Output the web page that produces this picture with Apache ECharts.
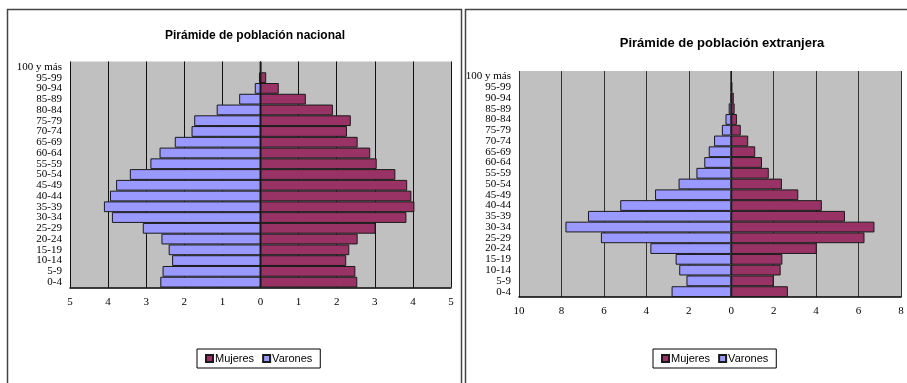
<!DOCTYPE html>
<html>
<head>
<meta charset="utf-8">
<script src="https://cdn.jsdelivr.net/npm/echarts@6/dist/echarts.min.js"></script>
<style>
html,body{margin:0;padding:0;background:#fff;}
#c{width:907px;height:383px;}
</style>
</head>
<body>
<div id="c"></div>
<script>
var categories = ['0-4','5-9','10-14','15-19','20-24','25-29','30-34','35-39','40-44','45-49','50-54','55-59','60-64','65-69','70-74','75-79','80-84','85-89','90-94','95-99','100 y más'];

var nacMujeres = [2.54,2.49,2.25,2.33,2.55,3.02,3.83,4.04,3.96,3.85,3.54,3.05,2.88,2.55,2.27,2.37,1.90,1.19,0.48,0.15,0.02];
var nacVarones = [2.63,2.57,2.32,2.41,2.60,3.09,3.90,4.11,3.95,3.79,3.43,2.89,2.65,2.25,1.81,1.74,1.15,0.56,0.15,0.04,0.01];

var extMujeres = [2.67,2.00,2.33,2.41,4.03,6.28,6.75,5.36,4.27,3.16,2.39,1.77,1.45,1.13,0.80,0.45,0.27,0.16,0.12,0.05,0.02];
var extVarones = [2.81,2.11,2.45,2.62,3.81,6.14,7.81,6.75,5.23,3.59,2.48,1.64,1.27,1.06,0.81,0.44,0.27,0.12,0.03,0.02,0.01];

var COL_M = '#993366', COL_V = '#9999FF';
var serif = 'Liberation Serif';
var sans = 'Liberation Sans';

function neg(a){ return a.map(function(v){ return -v; }); }

function xAxisCfg(gi, min, max, interval, gridColor){
  return {
    type:'value', gridIndex:gi, min:min, max:max, interval:interval,
    axisLine:{show:true, onZero:false, lineStyle:{color:'#000', width:1.5}},
    axisTick:{show:false},
    axisLabel:{fontFamily:serif, fontSize:11, color:'#000', margin:9,
      formatter:function(v){ return String(Math.abs(v)); }},
    splitLine:{show:true, lineStyle:{color:gridColor, width:1}}
  };
}
function yAxisCfg(gi){
  return {
    type:'category', gridIndex:gi, data:categories,
    axisLine:{show:false}, axisTick:{show:false},
    axisLabel:{fontFamily:serif, fontSize:11, color:'#000', margin:8, interval:0, lineHeight:10},
    splitLine:{show:false}
  };
}
function barS(name, data, xi, yi, color){
  return {
    name:name, type:'bar', stack:'s'+xi, xAxisIndex:xi, yAxisIndex:yi,
    data:data, barCategoryGap:'0%', barGap:'-100%',
    itemStyle:{color:color, borderColor:'#1a1a1a', borderWidth:1},
    emphasis:{disabled:true}, animation:false
  };
}

var chart = echarts.init(document.getElementById('c'), null, {renderer:'canvas'});
chart.setOption({
  animation:false,
  graphic:[
    {type:'polyline', shape:{points:[[7.5,383],[7.5,9.5],[461.5,9.5],[461.5,383]]}, style:{fill:null, stroke:'#444', lineWidth:1.5}, z:100},
    {type:'polyline', shape:{points:[[465.5,383],[465.5,9.5],[910,9.5]]}, style:{fill:null, stroke:'#444', lineWidth:1.5}, z:100}
  ],
  title:[
    {text:'Pirámide de población nacional', left:250, top:25, textAlign:'center',
      textStyle:{fontFamily:sans, fontSize:12, fontWeight:'bold', color:'#000'}},
    {text:'Pirámide de población extranjera', left:717, top:32, textAlign:'center',
      textStyle:{fontFamily:sans, fontSize:13, fontWeight:'bold', color:'#000'}}
  ],
  legend:[
    {left:197, top:349, width:112, height:21, orient:'horizontal', padding:[4,8,4,8],
      borderColor:'#000', borderWidth:1, itemWidth:7, itemHeight:7, itemGap:8,
      icon:'rect', data:['Mujeres','Varones'],
      textStyle:{fontFamily:sans, fontSize:11, color:'#000', padding:[0,0,0,-3]},
      selectedMode:false},
    {left:653, top:349, width:112, height:21, orient:'horizontal', padding:[4,8,4,8],
      borderColor:'#000', borderWidth:1, itemWidth:7, itemHeight:7, itemGap:8,
      icon:'rect', data:['Mujeres','Varones'],
      textStyle:{fontFamily:sans, fontSize:11, color:'#000', padding:[0,0,0,-3]},
      selectedMode:false}
  ],
  grid:[
    {left:70, top:61.5, width:381, height:226, backgroundColor:'#C0C0C0', show:true, borderWidth:0},
    {left:519, top:71, width:382, height:226, backgroundColor:'#C0C0C0', show:true, borderWidth:0}
  ],
  xAxis:[
    xAxisCfg(0, -5, 5, 1, '#111'),
    xAxisCfg(1, -10, 8, 2, '#333')
  ],
  yAxis:[ yAxisCfg(0), yAxisCfg(1) ],
  series:[
    barS('Mujeres', nacMujeres, 0, 0, COL_M),
    barS('Varones', neg(nacVarones), 0, 0, COL_V),
    barS('Mujeres', extMujeres, 1, 1, COL_M),
    barS('Varones', neg(extVarones), 1, 1, COL_V)
  ]
});
</script>
</body>
</html>
